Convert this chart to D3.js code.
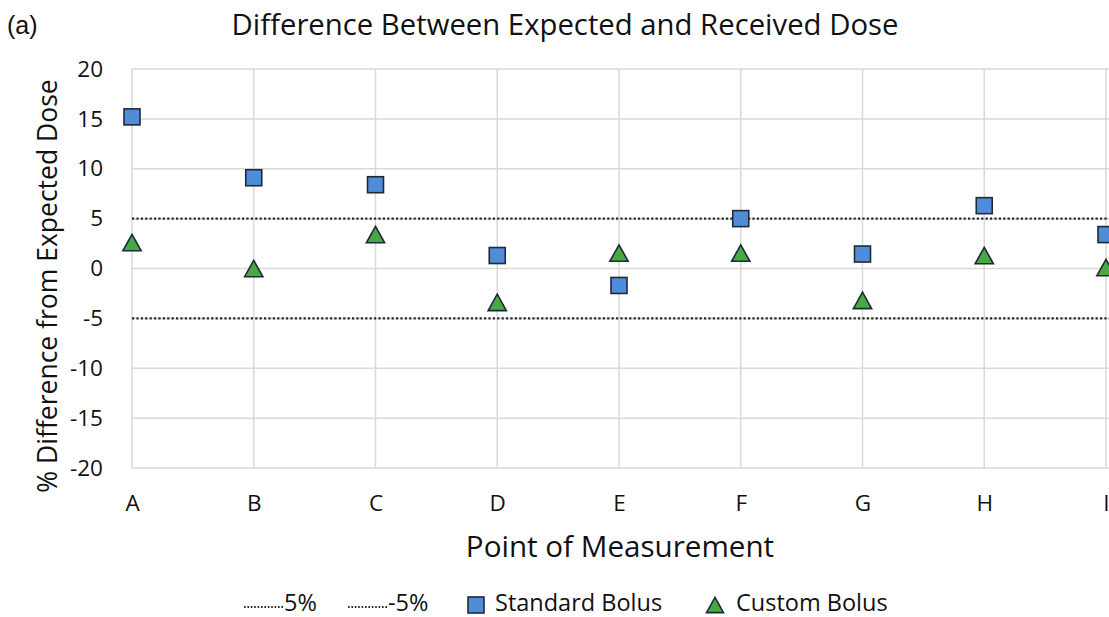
<!DOCTYPE html>
<html>
<head>
<meta charset="utf-8">
<script src="https://cdn.jsdelivr.net/npm/d3@7"></script>
<style>
  html, body { margin: 0; padding: 0; background: #fff; }
  svg { display: block; }
  text { font-family: "Open Sans", Lato, sans-serif; fill: #111; }
</style>
</head>
<body>
<svg id="chart" width="1109" height="617"></svg>
<script>
// Measurement points along the x axis
const points = ["A", "B", "C", "D", "E", "F", "G", "H", "I"];
// % difference between expected and received dose
const standardBolus = [15.2, 9.1, 8.4, 1.3, -1.7, 5.0, 1.45, 6.3, 3.4];
const customBolus = [2.6, 0.0, 3.4, -3.4, 1.55, 1.55, -3.2, 1.3, 0.1];
// Tolerance limits
const upperLimit = 5;
const lowerLimit = -5;
const yTicks = [20, 15, 10, 5, 0, -5, -10, -15, -20];

const svg = d3.select("#chart");
const plotLeft = 132, plotRight = 1106, plotTop = 69, plotBottom = 468;

const x = d3.scalePoint().domain(points).range([plotLeft, plotRight]);
const y = d3.scaleLinear().domain([-20, 20]).range([plotBottom, plotTop]);

const grid = "#d9d9d9";
const font = "'Open Sans', Lato, sans-serif";

// Horizontal gridlines
svg.append("g").selectAll("line").data(yTicks).join("line")
  .attr("x1", plotLeft).attr("x2", 1109)
  .attr("y1", d => y(d)).attr("y2", d => y(d))
  .attr("stroke", grid).attr("stroke-width", 1.5);

// Vertical gridlines at each measurement point
svg.append("g").selectAll("line").data(points).join("line")
  .attr("x1", d => x(d)).attr("x2", d => x(d))
  .attr("y1", plotTop).attr("y2", plotBottom)
  .attr("stroke", grid).attr("stroke-width", 1.5);

// Y axis tick labels (plain hyphen for negatives)
const yAxis = d3.axisLeft(y).tickValues(yTicks).tickFormat(d => String(d)).tickSize(0).tickPadding(0);
svg.append("g").attr("transform", `translate(${plotLeft - 29},0)`).call(yAxis)
  .call(g => g.select(".domain").remove())
  .selectAll("text")
  .style("font-family", font).style("font-size", "22.5px").attr("fill", "#111");

// X axis category labels
const xAxis = d3.axisBottom(x).tickSize(0).tickPadding(0);
svg.append("g").attr("transform", `translate(0,${plotBottom + 27})`).call(xAxis)
  .call(g => g.select(".domain").remove())
  .selectAll("text")
  .style("font-family", font).style("font-size", "22.5px").attr("fill", "#111");

// Tolerance lines at ±5%
svg.append("g").selectAll("line").data([upperLimit, lowerLimit]).join("line")
  .attr("x1", plotLeft).attr("x2", 1109)
  .attr("y1", d => y(d)).attr("y2", d => y(d))
  .attr("stroke", "#2a2a2a").attr("stroke-width", 2.4)
  .attr("stroke-dasharray", "2.2,2.2");

const blue = "#4f8ddb", green = "#48a843", edge = "#1e2a36";

// Upward triangle centred on its bounding box
const boxTriangle = {
  draw(context, size) {
    const w = Math.sqrt(size * 2 / 0.9), h = w * 0.9;
    context.moveTo(0, -h / 2);
    context.lineTo(w / 2, h / 2);
    context.lineTo(-w / 2, h / 2);
    context.closePath();
  }
};

// Standard bolus squares
const s = 16;
svg.append("g").selectAll("rect").data(standardBolus).join("rect")
  .attr("x", (d, i) => x(points[i]) - s / 2)
  .attr("y", d => y(d) - s / 2)
  .attr("width", s).attr("height", s)
  .attr("fill", blue).attr("stroke", edge).attr("stroke-width", 1.6);

// Custom bolus triangles
const tri = d3.symbol().type(boxTriangle).size(150);
svg.append("g").selectAll("path").data(customBolus).join("path")
  .attr("d", tri)
  .attr("transform", (d, i) => `translate(${x(points[i])},${y(d)})`)
  .attr("fill", green).attr("stroke", edge).attr("stroke-width", 1.6)
  .attr("stroke-linejoin", "miter");

// Titles
svg.append("text").attr("x", 7).attr("y", 34)
  .style("font-family", "'Liberation Sans', Arial, sans-serif").style("font-size", "25px")
  .text("(a)");
svg.append("text").attr("x", 565).attr("y", 35).attr("text-anchor", "middle")
  .style("font-size", "29.3px").text("Difference Between Expected and Received Dose");
svg.append("text").attr("x", 620).attr("y", 557).attr("text-anchor", "middle")
  .style("font-size", "29.6px").text("Point of Measurement");
svg.append("text").attr("transform", "translate(57,286) rotate(-90)").attr("text-anchor", "middle")
  .style("font-size", "26.5px").text("% Difference from Expected Dose");

// Legend
const ly = 604;
const legend = svg.append("g");
[[244, "5%"], [348, "-5%"]].forEach(([lx, label]) => {
  legend.append("line").attr("x1", lx).attr("x2", lx + 40).attr("y1", ly + 3).attr("y2", ly + 3)
    .attr("stroke", "#2a2a2a").attr("stroke-width", 2).attr("stroke-dasharray", "1.6,1.8");
  legend.append("text").attr("x", lx + 40).attr("y", ly + 7).style("font-size", "23.5px").text(label);
});
legend.append("rect").attr("x", 468).attr("y", ly - 7).attr("width", 16).attr("height", 16)
  .attr("fill", blue).attr("stroke", edge).attr("stroke-width", 1.6);
legend.append("text").attr("x", 495).attr("y", ly + 7).style("font-size", "23.5px").text("Standard Bolus");
legend.append("path").attr("d", d3.symbol().type(boxTriangle).size(130))
  .attr("transform", `translate(715,${ly + 1})`)
  .attr("fill", green).attr("stroke", edge).attr("stroke-width", 1.6);
legend.append("text").attr("x", 736).attr("y", ly + 7).style("font-size", "23.5px").text("Custom Bolus");
</script>
</body>
</html>
